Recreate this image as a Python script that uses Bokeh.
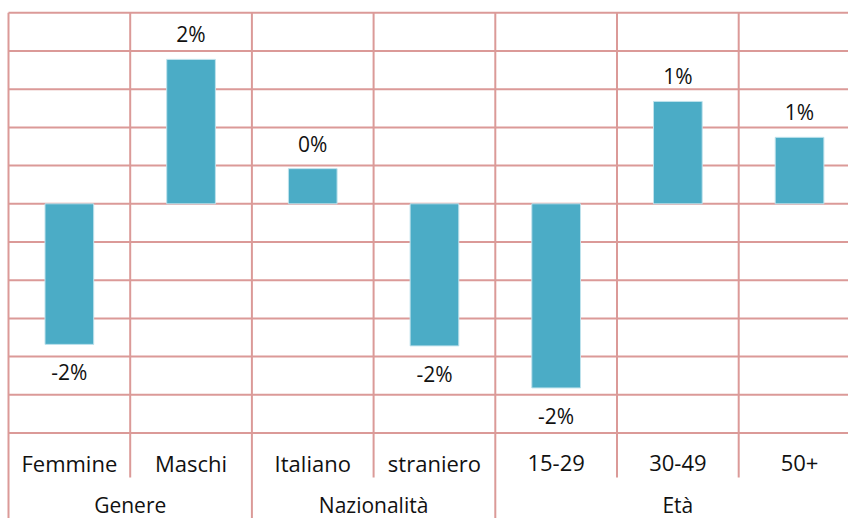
from bokeh.plotting import figure
from bokeh.models import Range1d, ColumnDataSource
from bokeh.core.properties import value
from bokeh.embed import file_html
from bokeh.resources import INLINE

# Variation (percentage points) by group
groups = ["Genere", "Nazionalità", "Età"]
group_sizes = [2, 2, 3]
categories = ["Femmine", "Maschi", "Italiano", "straniero", "15-29", "30-49", "50+"]
values = [-1.84, 1.89, 0.46, -1.86, -2.41, 1.34, 0.87]

# value axis gridlines every 0.5 points from -3 to 2.5
grid_ticks = [-3.0, -2.5, -2.0, -1.5, -1.0, -0.5, 0.0, 0.5, 1.0, 1.5, 2.0, 2.5]

BAR = "#4BACC6"
GRID = "#DB9A98"
FONT = "Open Sans"
TXT = "#111111"

W, H = 848, 518
COL_PX = 121.7          # width of one category column
LEFT_PX = 8             # left edge of the table
PX_PER_UNIT = 76.4      # pixels per percentage point
TOP_PX = 12.3           # pixel row of the top gridline

y_top = grid_ticks[-1] + TOP_PX / PX_PER_UNIT
y_bottom = y_top - H / PX_PER_UNIT
x_start = -LEFT_PX / COL_PX
x_end = (W - LEFT_PX) / COL_PX


def y_at(px):
    return y_top - px / PX_PER_UNIT


n = len(categories)
xs = [i + 0.5 for i in range(n)]

p = figure(width=W, height=H, output_backend="svg", toolbar_location=None,
           x_range=Range1d(x_start, x_end), y_range=Range1d(y_bottom, y_top),
           min_border=0, min_border_left=0, min_border_right=0,
           min_border_top=0, min_border_bottom=0)
p.axis.visible = False
p.grid.visible = False
p.outline_line_color = None
p.background_fill_color = "white"
p.border_fill_color = "white"

# horizontal gridlines of the value area
p.segment(x0=[0] * len(grid_ticks), x1=[n] * len(grid_ticks),
          y0=grid_ticks, y1=grid_ticks, line_color=GRID, line_width=2)

# vertical separators: group boundaries run to the bottom, category ones stop under the labels
group_edges = [0]
for s in group_sizes:
    group_edges.append(group_edges[-1] + s)
cat_edges = [i for i in range(1, n) if i not in group_edges]
p.segment(x0=group_edges, x1=group_edges,
          y0=[y_bottom] * len(group_edges), y1=[grid_ticks[-1]] * len(group_edges),
          line_color=GRID, line_width=2)
p.segment(x0=cat_edges, x1=cat_edges,
          y0=[y_at(477)] * len(cat_edges), y1=[grid_ticks[-1]] * len(cat_edges),
          line_color=GRID, line_width=2)

# bars
src = ColumnDataSource(dict(x=xs, top=values, bottom=[0] * n))
p.vbar(x="x", top="top", bottom="bottom", width=0.4, source=src,
       fill_color=BAR, line_color="#BFE2EC", line_width=1)

# value labels
pos = [(x, v) for x, v in zip(xs, values) if v >= 0]
neg = [(x, v) for x, v in zip(xs, values) if v < 0]
p.text(x=[a for a, _ in pos], y=[b for _, b in pos],
       text=[f"{round(b):.0f}%" for _, b in pos],
       text_align="center", text_baseline="alphabetic", y_offset=-25,
       text_font=value(FONT), text_font_size="21px", text_color=TXT)
p.text(x=[a for a, _ in neg], y=[b for _, b in neg],
       text=[f"{round(b):.0f}%" for _, b in neg],
       text_align="center", text_baseline="alphabetic", y_offset=28,
       text_font=value(FONT), text_font_size="21px", text_color=TXT)

# category labels
p.text(x=xs, y=[y_at(462.5)] * n, text=categories,
       text_align="center", text_baseline="middle",
       text_font=value(FONT), text_font_size="22px", text_color=TXT)

# group labels
gx = [(group_edges[i] + group_edges[i + 1]) / 2 for i in range(len(groups))]
p.text(x=gx, y=[y_at(504)] * len(groups), text=groups,
       text_align="center", text_baseline="middle",
       text_font=value(FONT), text_font_size="21px", text_color=TXT)

open("out.html", "w").write(file_html(p, INLINE))
